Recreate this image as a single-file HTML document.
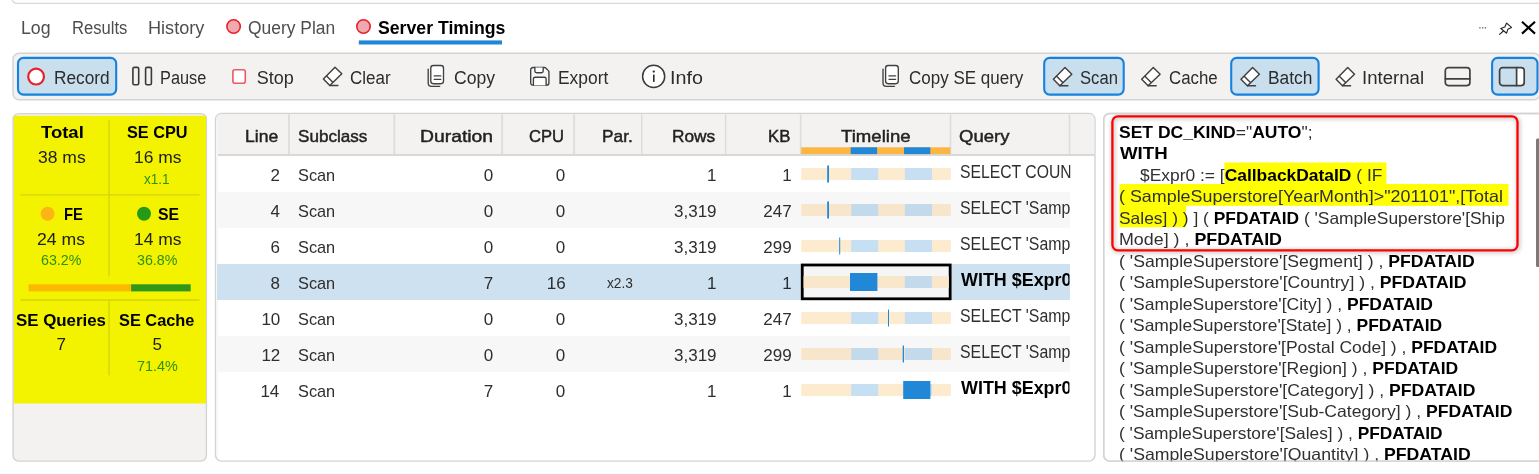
<!DOCTYPE html>
<html lang="en">
<head>
<meta charset="utf-8">
<title>Server Timings</title>
<style>
*{box-sizing:border-box;margin:0;padding:0}
html,body{width:1539px;height:474px;overflow:hidden;background:#fff}
body{position:relative;font-family:"Liberation Sans",sans-serif}
.t{position:absolute;white-space:pre;transform-origin:0 50%}
svg{position:absolute;left:0;top:0}
.ic{fill:none;stroke:#404040;stroke-width:1.45;stroke-linejoin:round;stroke-linecap:round}
.pb{fill:#fff;stroke:#d3d3d3;stroke-width:1.4}
.btn{fill:#c9dfee;stroke:#1483e0;stroke-width:2.1}
.hs{stroke:#dcdcdc;stroke-width:1.8}
.dv{stroke:#d3d30c;stroke-width:1.3}
</style>
</head>
<body>
<svg width="1539" height="474" viewBox="0 0 1539 474">
<!-- top strip -->
<rect x="12" y="-10" width="1545" height="13.4" rx="5" fill="#fff" stroke="#d8d8d8" stroke-width="1.3"/>
<!-- tab markers -->
<circle cx="233.6" cy="26.5" r="6.7" fill="#f0a9af" stroke="#e8202c" stroke-width="1.6"/>
<circle cx="363.5" cy="26.5" r="6.7" fill="#f0a9af" stroke="#e8202c" stroke-width="1.6"/>
<rect x="358.8" y="40.4" width="143.2" height="4.1" fill="#2188d8"/>
<!-- window controls -->
<g fill="#666"><rect x="1479.3" y="27.1" width="1.3" height="1.4"/><rect x="1482.05" y="27.1" width="1.3" height="1.4"/><rect x="1484.8" y="27.1" width="1.3" height="1.4"/></g>
<path transform="translate(1498 21)" d="M8.6 2.1 L13.5 6.4 L9.9 8.2 L8.6 12.2 L2.8 7.5 L6.8 6.1 Z M5.4 10 L1.6 13.4" fill="#fff" stroke="#222" stroke-width="1.1" stroke-linejoin="round" stroke-linecap="round"/>
<path transform="translate(1520 20)" d="M2 1.8 L15 13.6 M15 1.8 L2 13.6" stroke="#000" stroke-width="2.1" fill="none"/>
<!-- toolbar -->
<rect x="13" y="53.3" width="1527" height="46.4" rx="6" fill="#f3f2f1" stroke="#d4d4d4" stroke-width="1.4"/>
<rect class="btn" x="18" y="57.9" width="98.2" height="36.7" rx="5.5"/>
<rect class="btn" x="1044.2" y="57.9" width="79.5" height="36.7" rx="5.5"/>
<rect class="btn" x="1231.2" y="57.9" width="87.4" height="36.7" rx="5.5"/>
<rect class="btn" x="1492.1" y="57.9" width="45.4" height="36.7" rx="5.5"/>
<circle cx="36.1" cy="76.6" r="7.9" fill="#fff" stroke="#e8202c" stroke-width="2.2"/>
<rect x="132.9" y="67.4" width="5.8" height="17.3" rx="1.4" fill="none" stroke="#3a3a3a" stroke-width="1.6"/>
<rect x="145.6" y="67.4" width="5.8" height="17.3" rx="1.4" fill="none" stroke="#3a3a3a" stroke-width="1.6"/>
<rect x="232.9" y="69.8" width="12.4" height="13.4" rx="2" fill="#fff" stroke="#ea5a64" stroke-width="1.6"/>
<g transform="translate(322 66)"><path class="ic" style="fill:#fff" d="M13 1.2 L19.8 7.8 L7.8 19.4 L1.4 12.9 Z"/><path class="ic" d="M4.6 9.9 L10.6 15.9 M7.8 19.4 L15.9 19.4"/></g>
<g transform="translate(1052 66.4)"><path class="ic" style="fill:#fff" d="M13 1.2 L19.8 7.8 L7.8 19.4 L1.4 12.9 Z"/><path class="ic" d="M4.6 9.9 L10.6 15.9 M7.8 19.4 L15.9 19.4"/></g>
<g transform="translate(1140.3 66.4)"><path class="ic" style="fill:#fff" d="M13 1.2 L19.8 7.8 L7.8 19.4 L1.4 12.9 Z"/><path class="ic" d="M4.6 9.9 L10.6 15.9 M7.8 19.4 L15.9 19.4"/></g>
<g transform="translate(1239.6 66.4)"><path class="ic" style="fill:#fff" d="M13 1.2 L19.8 7.8 L7.8 19.4 L1.4 12.9 Z"/><path class="ic" d="M4.6 9.9 L10.6 15.9 M7.8 19.4 L15.9 19.4"/></g>
<g transform="translate(1334.7 66.4)"><path class="ic" style="fill:#fff" d="M13 1.2 L19.8 7.8 L7.8 19.4 L1.4 12.9 Z"/><path class="ic" d="M4.6 9.9 L10.6 15.9 M7.8 19.4 L15.9 19.4"/></g>
<g transform="translate(427 64)"><path class="ic" style="stroke-width:1.35" d="M1.2 5.1 V19 Q1.2 22.3 4.5 22.3 H12.7"/><rect class="ic" style="fill:#fff;stroke-width:1.35" x="3.8" y="1.5" width="12.7" height="18.2" rx="2.6"/><path class="ic" style="stroke-width:1.35" d="M7.2 11.9 H13.8 M7.2 15.3 H13.8"/></g>
<g transform="translate(881.8 64)"><path class="ic" style="stroke-width:1.35" d="M1.2 5.1 V19 Q1.2 22.3 4.5 22.3 H12.7"/><rect class="ic" style="fill:#fff;stroke-width:1.35" x="3.8" y="1.5" width="12.7" height="18.2" rx="2.6"/><path class="ic" style="stroke-width:1.35" d="M7.2 11.9 H13.8 M7.2 15.3 H13.8"/></g>
<g transform="translate(530.2 66.8) scale(.97 .96)"><path class="ic" style="fill:#f8f8f8;stroke-width:1.4" d="M3 .7 H14.6 Q15.4 .7 16 1.3 L18.7 4 Q19.3 4.6 19.3 5.4 V16.5 Q19.3 19.1 16.7 19.1 H3 Q.5 19.1 .5 16.5 V3.3 Q.5 .7 3 .7 Z"/><path class="ic" style="fill:#fff;stroke-width:1.4" d="M4.8 .7 V4.4 Q4.8 6.2 6.6 6.2 H11.6 Q13.4 6.2 13.4 4.4 V.7"/><path class="ic" style="fill:#fff;stroke-width:1.4" d="M3.3 19.1 V12.7 Q3.3 10.9 5.1 10.9 H14.6 Q16.4 10.9 16.4 12.7 V19.1"/></g>
<circle cx="653.65" cy="76.4" r="11.05" fill="#fff" stroke="#3c3c3c" stroke-width="1.5"/>
<rect x="653" y="74.6" width="1.6" height="7.3" fill="#2c2c2c"/><circle cx="653.8" cy="71.6" r="1.15" fill="#2c2c2c"/>
<g transform="translate(1444.5 66.8)"><rect class="ic" style="stroke-width:1.7" x=".8" y=".8" width="24.6" height="18" rx="3"/><path class="ic" style="stroke-width:1.7" d="M.8 12 H25.4"/></g>
<g transform="translate(1498.8 66.8)"><path d="M17.6 .8 H22.4 Q25.4 .8 25.4 3.8 V15.8 Q25.4 18.8 22.4 18.8 H17.6 Z" fill="#fff"/><rect class="ic" style="stroke-width:1.7" x=".8" y=".8" width="24.6" height="18" rx="3"/><path class="ic" style="stroke-width:1.7" d="M17.8 .8 V18.8"/></g>

<!-- left panel -->
<rect class="pb" style="fill:#f3f2f1" x="13.1" y="113.6" width="193.3" height="347.5" rx="5.5"/>
<path d="M13.9 117.5 Q13.9 115.8 15.6 115.8 H204.4 Q206.1 115.8 206.1 117.5 V403.4 H13.9 Z" fill="#f3f300"/>
<path class="dv" d="M109 120 V276.6 M109 300 V375.5 M20.5 194.9 H199.5 M20.5 300 H199.5"/>
<rect x="28.5" y="284.3" width="102.6" height="7.1" fill="#fdb900"/>
<rect x="131.1" y="284.3" width="59.6" height="7.1" fill="#2f9818"/>
<circle cx="47.6" cy="213.8" r="7" fill="#fdb515"/>
<circle cx="144" cy="213.8" r="7" fill="#259a17"/>

<!-- grid -->
<rect class="pb" x="215.5" y="113.5" width="879.5" height="347.6" rx="6"/>
<path d="M216.2 154 V119 Q216.2 114.2 221 114.2 H1089.5 Q1094.3 114.2 1094.3 119 V154 Z" fill="#f3f2f1"/>
<rect x="216.2" y="120" width="1.8" height="336" fill="#f6f6f6"/>
<rect x="218" y="154.1" width="876.3" height="1.8" fill="#d4d4d4"/>
<path class="hs" d="M289 114.3 V154 M394.3 114.3 V154 M502.2 114.3 V154 M574.2 114.3 V154"/>
<path class="hs" style="stroke-width:1.5" d="M641.7 114.3 V154 M725.6 114.3 V154 M800.6 114.3 V154 M950.5 114.3 V154 M1069.5 114.3 V154"/>
<rect x="801.2" y="147.3" width="149.2" height="6.8" fill="#fbb540"/>
<rect x="850.7" y="147.3" width="26.4" height="6.8" fill="#2188d8"/>
<rect x="904" y="147.3" width="26.3" height="6.8" fill="#2188d8"/>
<rect x="217" y="192" width="853" height="36" fill="#f7f7f7"/>
<rect x="217" y="264" width="853" height="36" fill="#cde1f0"/>
<rect x="217" y="336" width="853" height="36" fill="#f7f7f7"/>
<g transform="translate(801.2 168)"><rect x="0" y="0" width="149.7" height="12" fill="#fdebd0"/><rect x="50" y="0" width="27" height="12" fill="#c6dff2"/><rect x="103.6" y="0" width="27.2" height="12" fill="#c6dff2"/></g>
<g transform="translate(801.2 204)"><rect x="0" y="0" width="149.7" height="12" fill="#f8e6cc"/><rect x="50" y="0" width="27" height="12" fill="#c2daec"/><rect x="103.6" y="0" width="27.2" height="12" fill="#c2daec"/></g>
<g transform="translate(801.2 240)"><rect x="0" y="0" width="149.7" height="12" fill="#fdebd0"/><rect x="50" y="0" width="27" height="12" fill="#c6dff2"/><rect x="103.6" y="0" width="27.2" height="12" fill="#c6dff2"/></g>
<rect x="802.25" y="265" width="147.9" height="33.8" fill="#f6f6f6" stroke="#000" stroke-width="2.8"/>
<rect x="803.6" y="276" width="145.2" height="12" fill="#f9e7cc"/><rect x="904.8" y="276" width="27" height="12" fill="#c2daec"/>
<g transform="translate(801.2 312)"><rect x="0" y="0" width="149.7" height="12" fill="#fdebd0"/><rect x="50" y="0" width="27" height="12" fill="#c6dff2"/><rect x="103.6" y="0" width="27.2" height="12" fill="#c6dff2"/></g>
<g transform="translate(801.2 348)"><rect x="0" y="0" width="149.7" height="12" fill="#f8e6cc"/><rect x="50" y="0" width="27" height="12" fill="#c2daec"/><rect x="103.6" y="0" width="27.2" height="12" fill="#c2daec"/></g>
<g transform="translate(801.2 384)"><rect x="0" y="0" width="149.7" height="12" fill="#fdebd0"/><rect x="50" y="0" width="27" height="12" fill="#c6dff2"/><rect x="103.6" y="0" width="27.2" height="12" fill="#c6dff2"/></g>
<g fill="#2188d8">
<rect x="827.2" y="165.5" width="1.8" height="17"/>
<rect x="827.2" y="201.5" width="1.8" height="17"/>
<rect x="839.2" y="237.5" width="1" height="17"/>
<rect x="850" y="273" width="27.4" height="18"/>
<rect x="888" y="309.5" width="1" height="17"/>
<rect x="902.7" y="345.5" width="1.3" height="17"/>
<rect x="903.2" y="381" width="27.2" height="18"/>
</g>

<!-- right panel -->
<rect class="pb" x="1103.7" y="113.5" width="450" height="347.6" rx="6"/>
<rect x="1224.4" y="162.5" width="162" height="21.5" fill="#ffff00"/>
<rect x="1119.5" y="184" width="389" height="21.8" fill="#ffff00"/>
<rect x="1119.5" y="205.7" width="66.5" height="21.5" fill="#ffff00"/>
<rect x="1536" y="138.5" width="4" height="128.5" rx="1.5" fill="#7a7a7a"/>
</svg>
<div style="position:absolute;left:0;top:0;width:1539px;height:474px;will-change:transform">
<div class="t" style="font-size:18px;line-height:18px;color:#4e4e4e;top:19px;transform:scaleX(0.9857);left:21.31px;">Log</div>
<div class="t" style="font-size:18px;line-height:18px;color:#4e4e4e;top:19px;transform:scaleX(0.9220);left:71.58px;">Results</div>
<div class="t" style="font-size:18px;line-height:18px;color:#4e4e4e;top:19px;transform:scaleX(1.0073);left:147.89px;">History</div>
<div class="t" style="font-size:18px;line-height:18px;color:#4e4e4e;top:19px;transform:scaleX(0.9682);left:247.83px;">Query Plan</div>
<div class="t" style="font-size:18px;line-height:18px;color:#000;top:19px;transform:scaleX(0.9820);font-weight:700;left:377.92px;">Server Timings</div>
<div class="t" style="font-size:18px;line-height:18px;color:#2c2c2c;top:69px;transform:scaleX(0.9589);left:53.84px;">Record</div>
<div class="t" style="font-size:18px;line-height:18px;color:#2c2c2c;top:69px;transform:scaleX(0.9061);left:160.39px;">Pause</div>
<div class="t" style="font-size:18px;line-height:18px;color:#2c2c2c;top:69px;left:256.70px;">Stop</div>
<div class="t" style="font-size:18px;line-height:18px;color:#2c2c2c;top:69px;transform:scaleX(0.9429);left:349.66px;">Clear</div>
<div class="t" style="font-size:18px;line-height:18px;color:#2c2c2c;top:69px;transform:scaleX(0.9780);left:453.52px;">Copy</div>
<div class="t" style="font-size:18px;line-height:18px;color:#2c2c2c;top:69px;transform:scaleX(0.9667);left:557.73px;">Export</div>
<div class="t" style="font-size:18px;line-height:18px;color:#2c2c2c;top:69px;transform:scaleX(1.0963);left:670.21px;">Info</div>
<div class="t" style="font-size:18px;line-height:18px;color:#2c2c2c;top:69px;transform:scaleX(0.9442);left:908.56px;">Copy SE query</div>
<div class="t" style="font-size:18px;line-height:18px;color:#2c2c2c;top:69px;transform:scaleX(0.9231);left:1080.08px;">Scan</div>
<div class="t" style="font-size:18px;line-height:18px;color:#2c2c2c;top:69px;transform:scaleX(0.9360);left:1168.56px;">Cache</div>
<div class="t" style="font-size:18px;line-height:18px;color:#2c2c2c;top:69px;transform:scaleX(0.9636);left:1267.94px;">Batch</div>
<div class="t" style="font-size:18px;line-height:18px;color:#2c2c2c;top:69px;transform:scaleX(1.0333);left:1361.83px;">Internal</div>
<div class="t" style="font-size:17px;line-height:17px;color:#222;top:128px;transform:scaleX(1.0323);-webkit-text-stroke:0.45px #222;left:244.97px;">Line</div>
<div class="t" style="font-size:17px;line-height:17px;color:#222;top:128px;transform:scaleX(1.0044);-webkit-text-stroke:0.45px #222;left:297.70px;">Subclass</div>
<div class="t" style="font-size:17px;line-height:17px;color:#222;top:128px;transform:scaleX(1.1371);-webkit-text-stroke:0.45px #222;left:419.66px;">Duration</div>
<div class="t" style="font-size:17px;line-height:17px;color:#222;top:128px;transform:scaleX(0.9765);-webkit-text-stroke:0.45px #222;left:528.82px;">CPU</div>
<div class="t" style="font-size:17px;line-height:17px;color:#222;top:128px;transform:scaleX(1.0179);-webkit-text-stroke:0.45px #222;left:601.98px;">Par.</div>
<div class="t" style="font-size:17px;line-height:17px;color:#222;top:128px;transform:scaleX(1.0171);-webkit-text-stroke:0.45px #222;left:672.28px;">Rows</div>
<div class="t" style="font-size:17px;line-height:17px;color:#222;top:128px;transform:scaleX(0.9857);-webkit-text-stroke:0.45px #222;left:768.31px;">KB</div>
<div class="t" style="font-size:17px;line-height:17px;color:#222;top:128px;transform:scaleX(1.0937);-webkit-text-stroke:0.45px #222;left:840.80px;">Timeline</div>
<div class="t" style="font-size:17px;line-height:17px;color:#222;top:128px;transform:scaleX(1.0889);-webkit-text-stroke:0.45px #222;left:959.31px;">Query</div>
<div class="t" style="font-size:17px;line-height:17px;color:#2e2e2e;top:167px;right:1259.13px;">2</div>
<div class="t" style="font-size:17px;line-height:17px;color:#2e2e2e;top:167px;transform:scaleX(0.9595);left:298.14px;">Scan</div>
<div class="t" style="font-size:17px;line-height:17px;color:#2e2e2e;top:167px;right:1045.83px;">0</div>
<div class="t" style="font-size:17px;line-height:17px;color:#2e2e2e;top:167px;right:973.83px;">0</div>
<div class="t" style="font-size:17px;line-height:17px;color:#2e2e2e;top:167px;right:822.53px;">1</div>
<div class="t" style="font-size:17px;line-height:17px;color:#2e2e2e;top:167px;right:747.33px;">1</div>
<div class="t" style="font-size:17.5px;line-height:17.5px;color:#2e2e2e;top:164px;transform:scaleX(0.8992);left:959.70px;width:122.7px;overflow:hidden;height:23px;">SELECT COUN</div>
<div class="t" style="font-size:17px;line-height:17px;color:#2e2e2e;top:203px;right:1259.13px;">4</div>
<div class="t" style="font-size:17px;line-height:17px;color:#2e2e2e;top:203px;transform:scaleX(0.9595);left:298.14px;">Scan</div>
<div class="t" style="font-size:17px;line-height:17px;color:#2e2e2e;top:203px;right:1045.83px;">0</div>
<div class="t" style="font-size:17px;line-height:17px;color:#2e2e2e;top:203px;right:973.83px;">0</div>
<div class="t" style="font-size:17px;line-height:17px;color:#2e2e2e;top:203px;right:822.45px;">3,319</div>
<div class="t" style="font-size:17px;line-height:17px;color:#2e2e2e;top:203px;right:747.42px;">247</div>
<div class="t" style="font-size:17.5px;line-height:17.5px;color:#2e2e2e;top:200px;transform:scaleX(0.9058);left:959.69px;width:121.8px;overflow:hidden;height:23px;">SELECT &#x27;Samp</div>
<div class="t" style="font-size:17px;line-height:17px;color:#2e2e2e;top:239px;right:1259.13px;">6</div>
<div class="t" style="font-size:17px;line-height:17px;color:#2e2e2e;top:239px;transform:scaleX(0.9595);left:298.14px;">Scan</div>
<div class="t" style="font-size:17px;line-height:17px;color:#2e2e2e;top:239px;right:1045.83px;">0</div>
<div class="t" style="font-size:17px;line-height:17px;color:#2e2e2e;top:239px;right:973.83px;">0</div>
<div class="t" style="font-size:17px;line-height:17px;color:#2e2e2e;top:239px;right:822.45px;">3,319</div>
<div class="t" style="font-size:17px;line-height:17px;color:#2e2e2e;top:239px;right:747.42px;">299</div>
<div class="t" style="font-size:17.5px;line-height:17.5px;color:#2e2e2e;top:236px;transform:scaleX(0.9058);left:959.69px;width:121.8px;overflow:hidden;height:23px;">SELECT &#x27;Samp</div>
<div class="t" style="font-size:17px;line-height:17px;color:#2e2e2e;top:275px;right:1259.13px;">8</div>
<div class="t" style="font-size:17px;line-height:17px;color:#2e2e2e;top:275px;transform:scaleX(0.9595);left:298.14px;">Scan</div>
<div class="t" style="font-size:17px;line-height:17px;color:#2e2e2e;top:275px;right:1045.83px;">7</div>
<div class="t" style="font-size:17px;line-height:17px;color:#2e2e2e;top:275px;right:973.38px;">16</div>
<div class="t" style="font-size:14.5px;line-height:14.5px;color:#2e2e2e;top:276px;transform:scaleX(0.9444);left:607.00px;">x2.3</div>
<div class="t" style="font-size:17px;line-height:17px;color:#2e2e2e;top:275px;right:822.53px;">1</div>
<div class="t" style="font-size:17px;line-height:17px;color:#2e2e2e;top:275px;right:747.33px;">1</div>
<div class="t" style="font-size:17.5px;line-height:17.5px;color:#000;top:272px;transform:scaleX(1.0234);font-weight:700;left:961.30px;width:106.2px;overflow:hidden;height:23px;">WITH $Expr0</div>
<div class="t" style="font-size:17px;line-height:17px;color:#2e2e2e;top:311px;right:1258.68px;">10</div>
<div class="t" style="font-size:17px;line-height:17px;color:#2e2e2e;top:311px;transform:scaleX(0.9595);left:298.14px;">Scan</div>
<div class="t" style="font-size:17px;line-height:17px;color:#2e2e2e;top:311px;right:1045.83px;">0</div>
<div class="t" style="font-size:17px;line-height:17px;color:#2e2e2e;top:311px;right:973.83px;">0</div>
<div class="t" style="font-size:17px;line-height:17px;color:#2e2e2e;top:311px;right:822.45px;">3,319</div>
<div class="t" style="font-size:17px;line-height:17px;color:#2e2e2e;top:311px;right:747.42px;">247</div>
<div class="t" style="font-size:17.5px;line-height:17.5px;color:#2e2e2e;top:308px;transform:scaleX(0.9058);left:959.69px;width:121.8px;overflow:hidden;height:23px;">SELECT &#x27;Samp</div>
<div class="t" style="font-size:17px;line-height:17px;color:#2e2e2e;top:347px;right:1258.68px;">12</div>
<div class="t" style="font-size:17px;line-height:17px;color:#2e2e2e;top:347px;transform:scaleX(0.9595);left:298.14px;">Scan</div>
<div class="t" style="font-size:17px;line-height:17px;color:#2e2e2e;top:347px;right:1045.83px;">0</div>
<div class="t" style="font-size:17px;line-height:17px;color:#2e2e2e;top:347px;right:973.83px;">0</div>
<div class="t" style="font-size:17px;line-height:17px;color:#2e2e2e;top:347px;right:822.45px;">3,319</div>
<div class="t" style="font-size:17px;line-height:17px;color:#2e2e2e;top:347px;right:747.42px;">299</div>
<div class="t" style="font-size:17.5px;line-height:17.5px;color:#2e2e2e;top:344px;transform:scaleX(0.9058);left:959.69px;width:121.8px;overflow:hidden;height:23px;">SELECT &#x27;Samp</div>
<div class="t" style="font-size:17px;line-height:17px;color:#2e2e2e;top:383px;right:1259.68px;">14</div>
<div class="t" style="font-size:17px;line-height:17px;color:#2e2e2e;top:383px;transform:scaleX(0.9595);left:298.14px;">Scan</div>
<div class="t" style="font-size:17px;line-height:17px;color:#2e2e2e;top:383px;right:1045.83px;">7</div>
<div class="t" style="font-size:17px;line-height:17px;color:#2e2e2e;top:383px;right:973.83px;">0</div>
<div class="t" style="font-size:17px;line-height:17px;color:#2e2e2e;top:383px;right:822.53px;">1</div>
<div class="t" style="font-size:17px;line-height:17px;color:#2e2e2e;top:383px;right:747.33px;">1</div>
<div class="t" style="font-size:17.5px;line-height:17.5px;color:#000;top:380px;transform:scaleX(1.0234);font-weight:700;left:961.30px;width:106.2px;overflow:hidden;height:23px;">WITH $Expr0</div>
<div class="t" style="font-size:17px;line-height:17px;color:#000;top:124px;transform:scaleX(1.0868);font-weight:700;left:40.70px;">Total</div>
<div class="t" style="font-size:17px;line-height:17px;color:#202020;top:149px;transform:scaleX(1.0289);left:37.57px;">38 ms</div>
<div class="t" style="font-size:17px;line-height:17px;color:#000;top:124px;transform:scaleX(0.9574);font-weight:700;left:126.84px;">SE CPU</div>
<div class="t" style="font-size:17px;line-height:17px;color:#202020;top:149px;transform:scaleX(1.0267);left:133.67px;">16 ms</div>
<div class="t" style="font-size:14.5px;line-height:14.5px;color:#2f8f12;top:172px;transform:scaleX(0.9333);left:144.00px;">x1.1</div>
<div class="t" style="font-size:17px;line-height:17px;color:#000;top:206px;transform:scaleX(0.8700);font-weight:700;left:63.73px;">FE</div>
<div class="t" style="font-size:17px;line-height:17px;color:#000;top:206px;transform:scaleX(0.9286);font-weight:700;left:158.07px;">SE</div>
<div class="t" style="font-size:17px;line-height:17px;color:#202020;top:231px;transform:scaleX(1.0378);left:37.16px;">24 ms</div>
<div class="t" style="font-size:17px;line-height:17px;color:#202020;top:231px;transform:scaleX(1.0267);left:133.67px;">14 ms</div>
<div class="t" style="font-size:14.5px;line-height:14.5px;color:#2f8f12;top:253px;transform:scaleX(0.9825);left:40.92px;">63.2%</div>
<div class="t" style="font-size:14.5px;line-height:14.5px;color:#2f8f12;top:253px;transform:scaleX(0.9825);left:137.02px;">36.8%</div>
<div class="t" style="font-size:17px;line-height:17px;color:#000;top:312px;transform:scaleX(0.9921);font-weight:700;left:16.01px;">SE Queries</div>
<div class="t" style="font-size:17px;line-height:17px;color:#000;top:312px;transform:scaleX(0.9610);font-weight:700;left:119.34px;">SE Cache</div>
<div class="t" style="font-size:17px;line-height:17px;color:#202020;top:336px;left:56.50px;">7</div>
<div class="t" style="font-size:17px;line-height:17px;color:#202020;top:336px;left:152.50px;">5</div>
<div class="t" style="font-size:14.5px;line-height:14.5px;color:#2f8f12;top:359px;transform:scaleX(0.9900);left:136.51px;">71.4%</div>
<div class="t" style="font-size:16.5px;line-height:16.5px;color:#303030;top:124px;transform:scaleX(1.0611);left:1118.94px;"><b style="color:#000">SET DC_KIND</b>=&quot;<b style="color:#000">AUTO</b>&quot;;</div>
<div class="t" style="font-size:16.5px;line-height:16.5px;color:#303030;top:145px;transform:scaleX(1.1317);left:1120.00px;"><b style="color:#000">WITH</b></div>
<div class="t" style="font-size:16.5px;line-height:16.5px;color:#303030;top:167px;transform:scaleX(1.0550);left:1140.00px;">$Expr0 := [<b style="color:#000">CallbackDataID</b> ( IF</div>
<div class="t" style="font-size:16.5px;line-height:16.5px;color:#303030;top:188px;transform:scaleX(1.0836);left:1118.92px;">( SampleSuperstore[YearMonth]&gt;&quot;201101&quot;,[Total</div>
<div class="t" style="font-size:16.5px;line-height:16.5px;color:#303030;top:210px;transform:scaleX(1.0540);left:1118.95px;">Sales] ) ) ] ( <b style="color:#000">PFDATAID</b> ( &#x27;SampleSuperstore&#x27;[Ship</div>
<div class="t" style="font-size:16.5px;line-height:16.5px;color:#303030;top:231px;transform:scaleX(1.0819);left:1118.92px;">Mode] ) , <b style="color:#000">PFDATAID</b></div>
<div class="t" style="font-size:16.5px;line-height:16.5px;color:#303030;top:253px;transform:scaleX(1.0680);left:1119.43px;">( &#x27;SampleSuperstore&#x27;[Segment] ) , <b style="color:#000">PFDATAID</b></div>
<div class="t" style="font-size:16.5px;line-height:16.5px;color:#303030;top:274px;transform:scaleX(1.0697);left:1119.43px;">( &#x27;SampleSuperstore&#x27;[Country] ) , <b style="color:#000">PFDATAID</b></div>
<div class="t" style="font-size:16.5px;line-height:16.5px;color:#303030;top:296px;transform:scaleX(1.0629);left:1119.44px;">( &#x27;SampleSuperstore&#x27;[City] ) , <b style="color:#000">PFDATAID</b></div>
<div class="t" style="font-size:16.5px;line-height:16.5px;color:#303030;top:317px;transform:scaleX(1.0576);left:1119.44px;">( &#x27;SampleSuperstore&#x27;[State] ) , <b style="color:#000">PFDATAID</b></div>
<div class="t" style="font-size:16.5px;line-height:16.5px;color:#303030;top:339px;transform:scaleX(1.0592);left:1119.44px;">( &#x27;SampleSuperstore&#x27;[Postal Code] ) , <b style="color:#000">PFDATAID</b></div>
<div class="t" style="font-size:16.5px;line-height:16.5px;color:#303030;top:360px;transform:scaleX(1.0626);left:1119.44px;">( &#x27;SampleSuperstore&#x27;[Region] ) , <b style="color:#000">PFDATAID</b></div>
<div class="t" style="font-size:16.5px;line-height:16.5px;color:#303030;top:382px;transform:scaleX(1.0672);left:1119.43px;">( &#x27;SampleSuperstore&#x27;[Category] ) , <b style="color:#000">PFDATAID</b></div>
<div class="t" style="font-size:16.5px;line-height:16.5px;color:#303030;top:403px;transform:scaleX(1.0668);left:1119.43px;">( &#x27;SampleSuperstore&#x27;[Sub-Category] ) , <b style="color:#000">PFDATAID</b></div>
<div class="t" style="font-size:16.5px;line-height:16.5px;color:#303030;top:425px;transform:scaleX(1.0498);left:1119.45px;">( &#x27;SampleSuperstore&#x27;[Sales] ) , <b style="color:#000">PFDATAID</b></div>
<div class="t" style="font-size:16.5px;line-height:16.5px;color:#303030;top:446px;transform:scaleX(1.0709);left:1119.43px;">( &#x27;SampleSuperstore&#x27;[Quantity] ) , <b style="color:#000">PFDATAID</b></div>
</div>
<svg width="1539" height="474" viewBox="0 0 1539 474">
<filter id="sh" x="-5%" y="-10%" width="110%" height="125%"><feGaussianBlur stdDeviation="2"/></filter>
<rect x="1112.4" y="116.35" width="405.1" height="134" rx="5.5" fill="none" stroke="#000" stroke-opacity=".24" stroke-width="3.5" filter="url(#sh)" transform="translate(.8 .8)"/>
<rect x="1112.4" y="116.35" width="405.1" height="134" rx="5.5" fill="none" stroke="#ff0000" stroke-width="2.3"/>
<rect x="1100" y="461.8" width="439" height="13" fill="#fff"/>
<rect class="pb" style="fill:none" x="1103.7" y="113.5" width="450" height="347.6" rx="6"/>
</svg>
</body>
</html>
